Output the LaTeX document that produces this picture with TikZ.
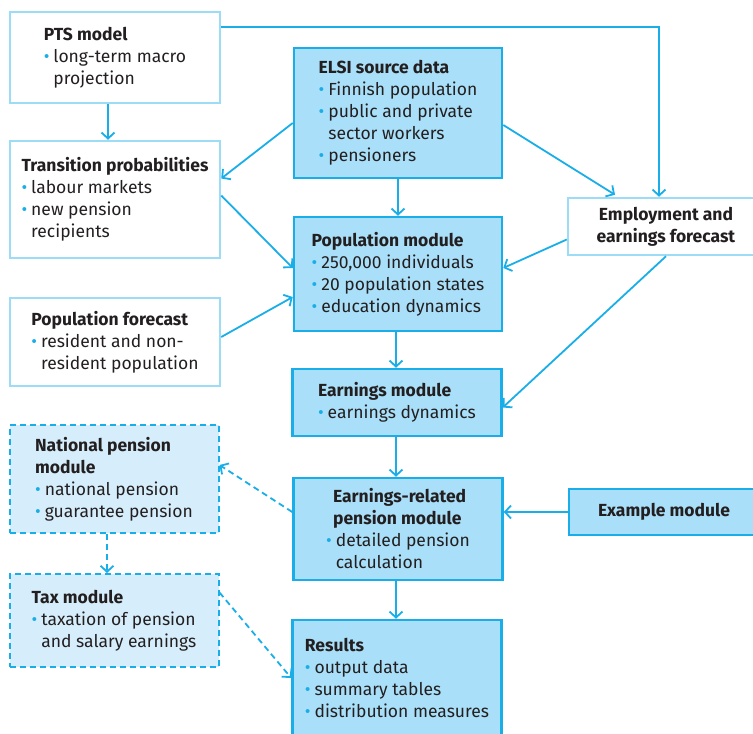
\documentclass[tikz,border=0pt]{standalone}
\usepackage{fontspec}
\setmainfont{Fira Sans}
\usepackage{tikz}
\usetikzlibrary{arrows.meta}

\definecolor{linecol}{HTML}{1AAEE8}
\definecolor{paleline}{HTML}{9DDCF7}
\definecolor{boxfill}{HTML}{A9DFF8}
\definecolor{dashfill}{HTML}{D6EEFB}
\definecolor{txtcol}{HTML}{231F20}

\newcommand{\bit}{\textcolor{linecol}{\textbullet}\hspace{4pt}}
\newcommand{\bsp}{\phantom{\textbullet}\hspace{4pt}}

\begin{document}
\begin{tikzpicture}[
			x=1pt, y=-1pt,
			every node/.style={font=\fontsize{17.5}{22}\selectfont, text=txtcol, align=left, inner sep=0pt},
			lightbox/.style={draw=paleline, line width=2.5pt, fill=white},
			mainbox/.style={draw=linecol, line width=2.5pt, fill=boxfill},
			dashbox/.style={draw=linecol, line width=2pt, fill=dashfill, dash pattern=on 6pt off 4pt},
			flow/.style={draw=linecol, line width=1.8pt, -{Straight Barb[length=6pt,width=13pt]}},
			dashflow/.style={flow, dash pattern=on 6pt off 4pt}
			]
			\useasboundingbox (0,0) rectangle (753,734);
			
			% Left column
			\node[lightbox, minimum width=210, minimum height=91] (pts) at (115,57.5)
				{\textbf{PTS model}\\\bit long-term macro\\\bsp projection};
			\node[lightbox, minimum width=210, minimum height=117] (trans) at (115,199.5)
				{\textbf{Transition probabilities}\\\bit labour markets\\\bit new pension\\\bsp recipients};
			\node[lightbox, minimum width=210, minimum height=88] (popfc) at (115,342)
				{\textbf{Population forecast}\\\bit resident and non-\\\bsp resident population};
			\node[dashbox, minimum width=209, minimum height=108] (natpen) at (114,479)
				{\textbf{National pension}\\\textbf{module}\\\bit national pension\\\bit guarantee pension};
			\node[dashbox, minimum width=209, minimum height=93] (tax) at (114,620.5)
				{\textbf{Tax module}\\\bit taxation of pension\\\bsp and salary earnings};
			
			% Middle column
			\node[mainbox, minimum width=208, minimum height=130] (elsi) at (398,113)
				{\textbf{ELSI source data}\\\bit Finnish population\\\bit public and private\\\bsp sector workers\\\bit pensioners};
			\node[mainbox, minimum width=208, minimum height=114] (popmod) at (398,274)
				{\textbf{Population module}\\\bit 250,000 individuals\\\bit 20 population states\\\bit education dynamics};
			\node[mainbox, minimum width=209, minimum height=67] (earnmod) at (397,402.5)
				{\textbf{Earnings module}\\\bit earnings dynamics};
			\node[mainbox, minimum width=209, minimum height=102] (erp) at (398,529)
				{\hspace{7pt}\textbf{Earnings-related}\\\hspace{7pt}\textbf{pension module}\\\bit detailed pension\\\bsp calculation};
			\node[mainbox, minimum width=209, minimum height=116] (results) at (397,678)
				{\textbf{Results}\\\bit output data\\\bit summary tables\\\bit distribution measures};
			
			% Right column
			\node[lightbox, minimum width=196, minimum height=57, align=center] (employ) at (666,226.5)
				{\textbf{Employment and}\\\textbf{earnings forecast}};
			\node[mainbox, minimum width=190, minimum height=46] (example) at (664,512)
				{\textbf{Example module}};
			
			% Connectors
			\draw[flow] ([yshift=-16pt]pts.north east) -| ([xshift=-7pt]employ.north);
			\draw[flow] ([xshift=-7pt]pts.south) -- ([xshift=-7pt]trans.north);
			\draw[flow] ([yshift=-10pt]elsi.west) -- ([yshift=21pt]trans.east);
			\draw[flow] ([yshift=-12pt]elsi.east) -- ([xshift=-51pt,yshift=2pt]employ.north);
			\draw[flow] (elsi.south) -- (popmod.north);
			\draw[flow] ([yshift=4pt]trans.east) -- ([yshift=6pt]popmod.west);
			\draw[flow] ([yshift=5pt]popfc.east) -- ([yshift=-23pt]popmod.west);
			\draw[flow] ([yshift=-13pt]employ.west) -- ([yshift=6pt]popmod.east);
			\draw[flow] (employ.south) -- ([yshift=-5pt]earnmod.east);
			\draw[flow] ([xshift=-2pt]popmod.south) -- ([xshift=-1pt]earnmod.north);
			\draw[flow] ([xshift=-1pt]earnmod.south) -- ([xshift=-2pt]erp.north);
			\draw[flow] ([xshift=-2pt]erp.south) -- ([xshift=-1pt]results.north);
			\draw[flow] (example.west) -- (example.west -| erp.east);
			\draw[dashflow] ([yshift=17pt]erp.west) -- ([yshift=14pt]natpen.east);
			\draw[dashflow] ([xshift=-7pt]natpen.south) -- ([xshift=-7pt]tax.north);
			\draw[dashflow] ([yshift=28pt]tax.east) -- (results.west);
		\end{tikzpicture}
\end{document}
